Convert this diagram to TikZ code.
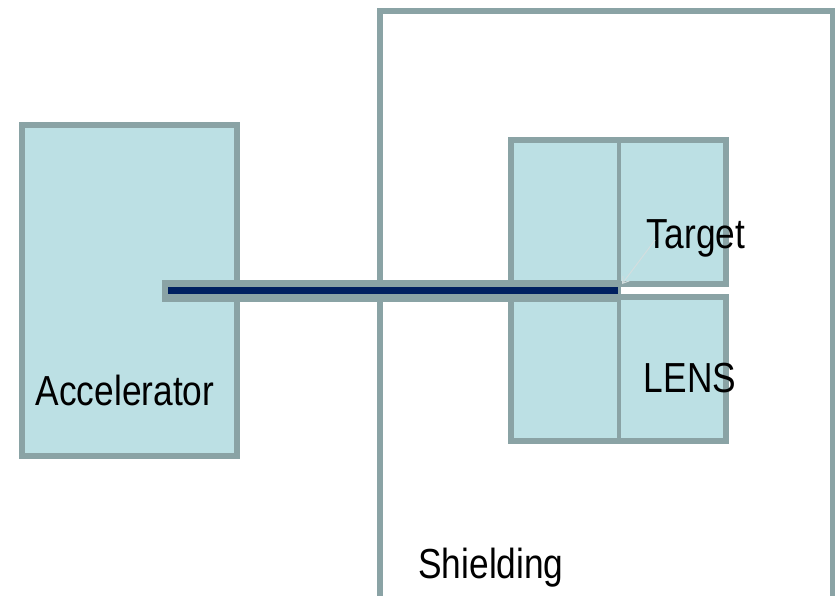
\documentclass[tikz,border=0pt]{standalone}
\usepackage{fontspec}
\setmainfont{Liberation Sans}
\usetikzlibrary{arrows.meta}
\definecolor{bord}{HTML}{8AA3A5}
\definecolor{boxfill}{HTML}{BCE0E4}
\definecolor{navy}{HTML}{002060}
\definecolor{faint}{HTML}{D3DEDF}
\tikzset{
  unit box/.style={draw=bord, line width=6pt, fill=boxfill, inner sep=0pt, outer sep=0pt},
  shield box/.style={draw=bord, line width=5.5pt, inner sep=0pt, outer sep=0pt},
  lbl/.style={anchor=base, inner sep=0pt, font=\fontsize{42}{50}\selectfont},
}
\newcommand{\nar}[1]{\scalebox{0.84}[1]{#1}}
\begin{document}
\begin{tikzpicture}[x=1pt,y=-1pt]
\useasboundingbox (0,0) rectangle (838,596);
\begin{scope}
\clip (0,0) rectangle (838,596);
\node[shield box, minimum width=452.5pt, minimum height=629pt] (shield) at (606.25,325.5) {};
\end{scope}
\node[unit box, minimum width=215pt, minimum height=331pt] (acc) at (129.5,290.5) {};
\node[unit box, minimum width=215pt, minimum height=144pt] (upper) at (618.5,212) {};
\node[unit box, minimum width=215pt, minimum height=144pt] (lower) at (618.5,369) {};
\draw[bord, line width=4pt] (upper.north) -- (lower.south);
\node[fill=bord, inner sep=0pt, outer sep=0pt, minimum width=456pt, minimum height=22pt] (beamout) at (390,291) {};
\node[fill=navy, inner sep=0pt, outer sep=0pt, minimum width=450pt, minimum height=7pt] (beam) at (393,290.5) {};
\node[lbl] (acclbl) at (125,405) {\nar{Accelerator}};
\node[lbl] (tgtlbl) at (696,248) {\nar{Target}};
\node[lbl] (lenslbl) at (690,392) {\nar{LENS}};
\node[lbl] (shieldlbl) at (491,578) {\nar{Shielding}};
\coordinate (arrstart) at (655,240);
\coordinate (arrend) at (622,284);
\draw[faint, line width=1pt, -{Straight Barb[length=6pt,width=8pt]}] (arrstart) -- (arrend);
\end{tikzpicture}
\end{document}
